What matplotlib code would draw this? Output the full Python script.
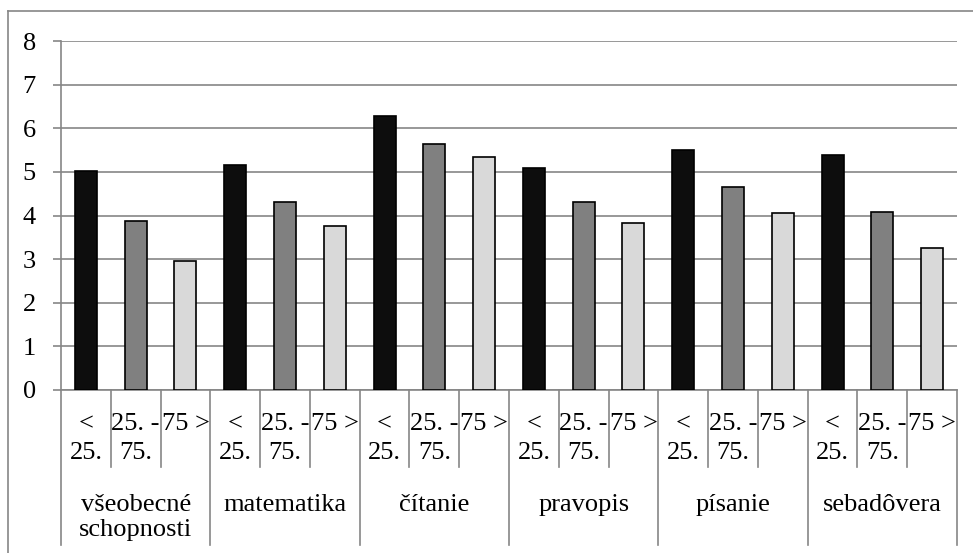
import numpy as np
from matplotlib import pyplot as plt
from matplotlib.lines import Line2D

plt.rcParams['font.family'] = ['Liberation Serif', 'DejaVu Serif']

# kategórie a skupiny percentilov
categories = ['všeobecné\nschopnosti', 'matematika', 'čítanie', 'pravopis', 'písanie', 'sebadôvera']
groups = ['<\n25.', '25. -\n75.', '75 >']

# hodnoty pre každú skupinu
low = [5.03, 5.16, 6.27, 5.08, 5.49, 5.39]
mid = [3.87, 4.30, 5.64, 4.31, 4.66, 4.09]
high = [2.96, 3.76, 5.33, 3.82, 4.05, 3.25]
series = [low, mid, high]
colors = ['#0d0d0d', '#808080', '#d9d9d9']

grid_c = '#868686'
fs = 19

fig = plt.figure(figsize=(9.73, 5.53), dpi=100)
W, H = 973, 553
ax = fig.add_axes([61 / W, 1 - 390 / H, (957 - 61) / W, (390 - 41) / H])

n = len(groups)
for k, vals in enumerate(series):
    xs = np.arange(len(categories)) * n + k
    ax.bar(xs, vals, width=0.44, color=colors[k], edgecolor='black', linewidth=1.2, zorder=3)

ax.set_xlim(-0.5, len(categories) * n - 0.5)
ax.set_ylim(0, 8)
ax.set_yticks(range(0, 9))
ax.yaxis.grid(True, color=grid_c, linewidth=1.2, zorder=0)
ax.set_axisbelow(True)
ax.set_xticks([])
ax.tick_params(axis='y', length=6, width=1.2, color=grid_c, pad=12, labelsize=fs)
for s in ['top', 'right', 'left']:
    ax.spines[s].set_visible(False)
ax.spines['bottom'].set_color(grid_c)
ax.spines['bottom'].set_linewidth(1.2)

trans = ax.get_xaxis_transform()
short_y = -77 / 349
long_y = -155 / 349

# ľavá os až dole
ax.add_line(Line2D([-0.5, -0.5], [1, long_y], transform=trans, color=grid_c, lw=1.2, clip_on=False))

total = len(categories) * n
for b in range(1, total + 1):
    x = b - 0.5
    y_end = long_y if b % n == 0 else short_y
    ax.add_line(Line2D([x, x], [0, y_end], transform=trans, color=grid_c, lw=1.2, clip_on=False))

for i in range(total):
    ax.text(i, -23 / 349, groups[i % n], transform=trans, ha='center', va='top',
            fontsize=fs, linespacing=1.42)

for j, cat in enumerate(categories):
    ax.text(j * n + 1, -104 / 349, cat, transform=trans, ha='center', va='top',
            fontsize=fs, linespacing=1.17)

# vonkajší rámček grafu
fig.add_artist(Line2D([8 / W, 8 / W], [0, 1 - 11 / H], transform=fig.transFigure, color=grid_c, lw=1.2))
fig.add_artist(Line2D([8 / W, 1], [1 - 11 / H, 1 - 11 / H], transform=fig.transFigure, color=grid_c, lw=1.2))

plt.savefig('out.png', dpi=100)
